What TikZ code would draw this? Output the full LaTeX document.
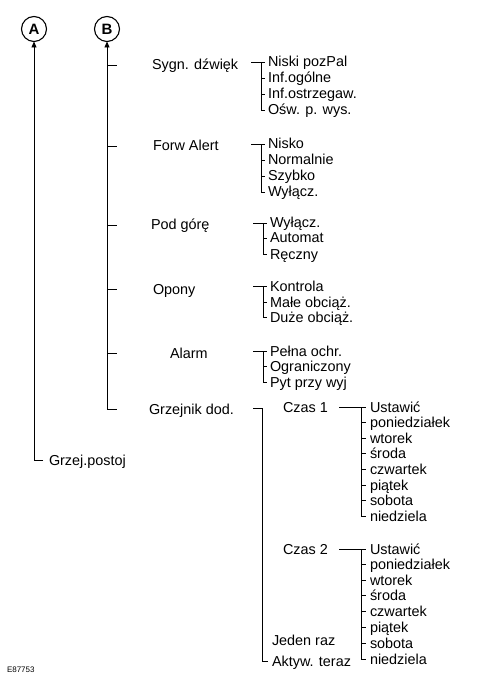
\documentclass[tikz,border=0pt]{standalone}
\usepackage{fontspec}
\setmainfont{Liberation Sans}
\usetikzlibrary{arrows.meta,calc}
\begin{document}
\begin{tikzpicture}[x=1pt,y=-1pt,
  every node/.style={inner sep=0pt,outer sep=0pt},
  lbl/.style={anchor=west,font=\fontsize{14.4}{16}\selectfont,text height=10pt,text depth=0pt},
  circ/.style={circle,draw,line width=1.1pt,minimum size=25pt,font=\fontsize{15}{16}\selectfont\bfseries},
  ln/.style={line width=0.9pt},
  tip/.style={-{Triangle[length=6pt,width=5pt]}}
]
\useasboundingbox (0,0) rectangle (486,700);

% circles
\node[circ] (A) at (34,29) {A};
\node[circ] (B) at (107,29) {B};

% level 1 labels
\node[lbl] (l1) at (152,65) {Sygn. dźwięk};
\node[lbl] (l2) at (153,146) {Forw Alert};
\node[lbl] (l3) at (151,225) {Pod górę};
\node[lbl] (l4) at (153,289) {Opony};
\node[lbl] (l5) at (170,353) {Alarm};
\node[lbl] (l6) at (149,409) {Grzejnik dod.};
\node[lbl] (gp) at (49,460) {Grzej.postoj};

% coordinates on the main lines
\coordinate (Aend) at (34,460);
\coordinate (Bend) at (107,409);
\draw[ln,tip] (Aend) -- (A.south);
\draw[ln] ($(gp.west)+(-6,0)$) -- (Aend);
\draw[ln,tip] (Bend) -- (B.south);
\draw[ln] (Bend) -- (117,409);
\foreach \yy in {65,146,225,289,353}{
  \draw[ln] (107,\yy) -- (117,\yy);
}

% Sygn. dźwięk
\node[lbl] (s1) at (268,62) {Niski pozPal};
\node[lbl] (s2) at (268,78) {Inf.ogólne};
\node[lbl] (s3) at (268,94) {Inf.ostrzegaw.};
\node[lbl] (s4) at (268,110) {Ośw. p. wys.};
\draw[ln] (251,62) -- (261,62) -- (261,110) -- ($(s4.west)+(-3,0)$);
\foreach \n in {s1,s2,s3}{\draw[ln] (261,0 |- \n.west) -- ($(\n.west)+(-3,0)$);}

% Forw Alert
\node[lbl] (f1) at (268,144) {Nisko};
\node[lbl] (f2) at (268,160) {Normalnie};
\node[lbl] (f3) at (268,176) {Szybko};
\node[lbl] (f4) at (268,192) {Wyłącz.};
\draw[ln] (251,144) -- (261,144) -- (261,192) -- ($(f4.west)+(-3,0)$);
\foreach \n in {f1,f2,f3}{\draw[ln] (261,0 |- \n.west) -- ($(\n.west)+(-3,0)$);}

% Pod górę
\node[lbl] (p1) at (270,223) {Wyłącz.};
\node[lbl] (p2) at (270,238) {Automat};
\node[lbl] (p3) at (270,254) {Ręczny};
\draw[ln] (253,223) -- (263,223) -- (263,254) -- ($(p3.west)+(-3,0)$);
\foreach \n in {p1,p2}{\draw[ln] (263,0 |- \n.west) -- ($(\n.west)+(-3,0)$);}

% Opony
\node[lbl] (o1) at (270,286) {Kontrola};
\node[lbl] (o2) at (270,302) {Małe obciąż.};
\node[lbl] (o3) at (270,317) {Duże obciąż.};
\draw[ln] (253,286) -- (263,286) -- (263,317) -- ($(o3.west)+(-3,0)$);
\foreach \n in {o1,o2}{\draw[ln] (263,0 |- \n.west) -- ($(\n.west)+(-3,0)$);}

% Alarm
\node[lbl] (a1) at (270,351) {Pełna ochr.};
\node[lbl] (a2) at (270,366) {Ograniczony};
\node[lbl] (a3) at (270,382) {Pyt przy wyj};
\draw[ln] (253,351) -- (263,351) -- (263,382) -- ($(a3.west)+(-3,0)$);
\foreach \n in {a1,a2}{\draw[ln] (263,0 |- \n.west) -- ($(\n.west)+(-3,0)$);}

% Grzejnik dod.
\node[lbl] (c1) at (283,407) {Czas 1};
\node[lbl] (c2) at (283,549) {Czas 2};
\node[lbl] (jr) at (272,640) {Jeden raz};
\node[lbl] (at) at (272,661) {Aktyw. teraz};
\draw[ln] (253,408) -- (262,408) -- (262,661) -- ($(at.west)+(-4,0)$);

% Czas 1 days
\node[lbl] (d11) at (370,407) {Ustawić};
\node[lbl] (d12) at (370,422) {poniedziałek};
\node[lbl] (d13) at (370,438) {wtorek};
\node[lbl] (d14) at (370,453) {środa};
\node[lbl] (d15) at (370,469) {czwartek};
\node[lbl] (d16) at (370,485) {piątek};
\node[lbl] (d17) at (370,500) {sobota};
\node[lbl] (d18) at (370,516) {niedziela};
\draw[ln] (339,0 |- c1.east) -- (361,0 |- c1.east) -- (361,0 |- d18.west) -- ($(d18.west)+(-4,0)$);
\foreach \n in {d11,d12,d13,d14,d15,d16,d17}{\draw[ln] (361,0 |- \n.west) -- ($(\n.west)+(-4,0)$);}

% Czas 2 days
\node[lbl] (d21) at (370,549) {Ustawić};
\node[lbl] (d22) at (370,564) {poniedziałek};
\node[lbl] (d23) at (370,580) {wtorek};
\node[lbl] (d24) at (370,595) {środa};
\node[lbl] (d25) at (370,611) {czwartek};
\node[lbl] (d26) at (370,627) {piątek};
\node[lbl] (d27) at (370,643) {sobota};
\node[lbl] (d28) at (370,659) {niedziela};
\draw[ln] (339,0 |- c2.east) -- (361,0 |- c2.east) -- (361,0 |- d28.west) -- ($(d28.west)+(-4,0)$);
\foreach \n in {d21,d22,d23,d24,d25,d26,d27}{\draw[ln] (361,0 |- \n.west) -- ($(\n.west)+(-4,0)$);}

% figure id
\node[anchor=west,font=\fontsize{8}{9}\selectfont] (id) at (7,670) {E87753};
\end{tikzpicture}
\end{document}
